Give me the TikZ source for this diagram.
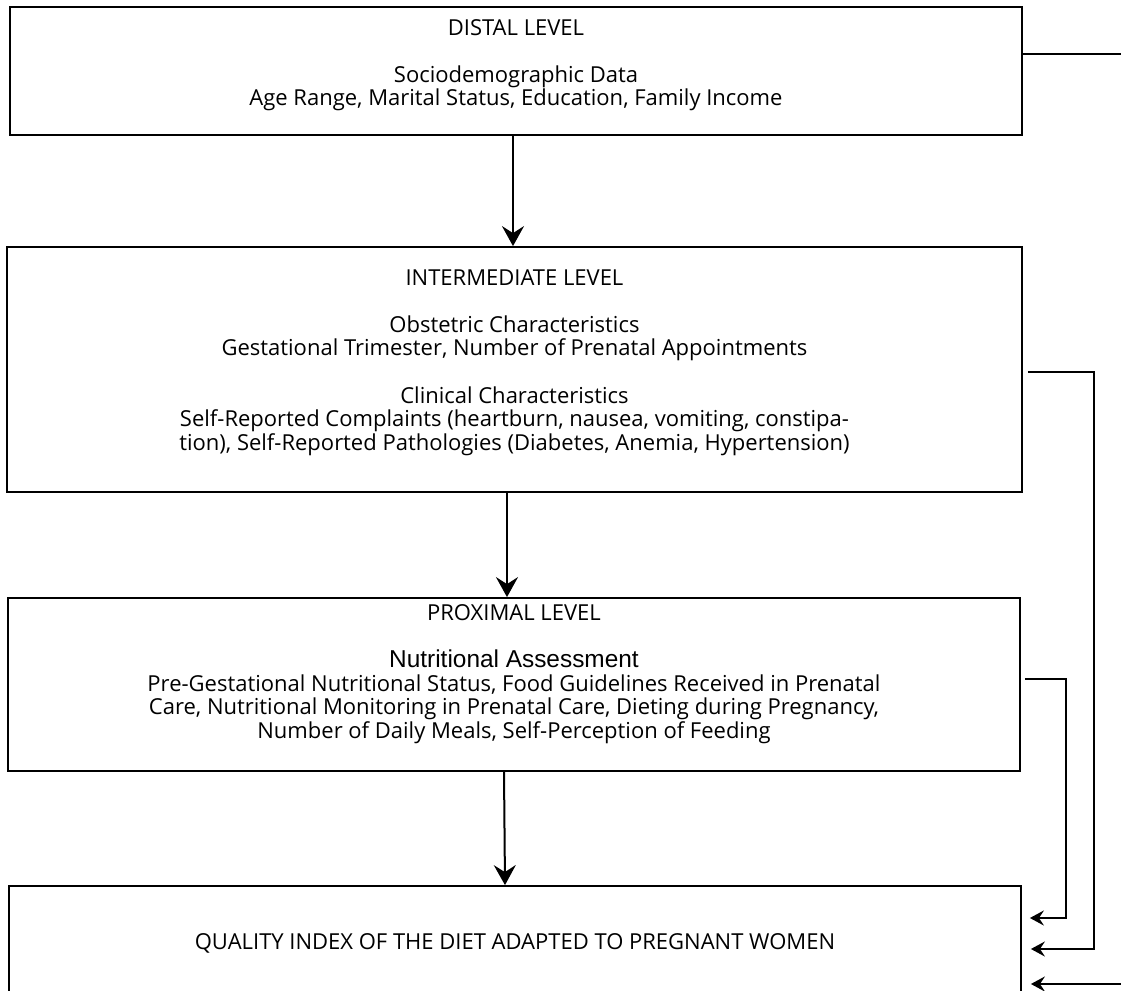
\documentclass[tikz,border=0pt]{standalone}
\usepackage{fontspec}
\setmainfont{Open Sans}
\newfontfamily\arialfont{Liberation Sans}
\usepackage{tikz}
\usetikzlibrary{arrows.meta,positioning}
\tikzstyle{levelbox} = [draw, line width=0.9pt, inner sep=0pt, minimum width=506pt]
\tikzstyle{leveltext} = [align=center, inner sep=0pt, font={\fontsize{11pt}{11.8pt}\selectfont}]
\tikzstyle{arrow} = [line width=1pt,-{Stealth[length=10pt,width=11pt,inset=3.5pt]}]
\tikzstyle{sidearrow} = [line width=1pt,-{Stealth[length=7pt,width=7.5pt,inset=2.5pt]}]
\tikzstyle{line} = [line width=1pt]

\begin{document}
\begin{tikzpicture}[x=0.5pt, y=-0.5pt]
\useasboundingbox (0,0) rectangle (1121,991);
% Level boxes
\node[levelbox, minimum height=64pt] (distal) at (516,71) {};
\node[levelbox, minimum width=507.5pt, minimum height=122.5pt] (inter) at (514.5,369.5) {};
\node[levelbox, minimum height=86.5pt] (proximal) at (514,684.5) {};
\node[levelbox, leveltext, minimum height=57pt] (quality) at (515,943) {QUALITY INDEX OF THE DIET ADAPTED TO PREGNANT WOMEN};
% Box texts
\node[leveltext] (distaltext) at (516,65.25) {DISTAL LEVEL\\[11.8pt]Sociodemographic Data\\Age Range, Marital Status, Education, Family Income};
\node[leveltext] (intertext) at (514.5,362.5) {INTERMEDIATE LEVEL\\[11.8pt]Obstetric Characteristics\\Gestational Trimester, Number of Prenatal Appointments\\[11.8pt]Clinical Characteristics\\Self-Reported Complaints (heartburn, nausea, vomiting, constipa-\\tion), Self-Reported Pathologies (Diabetes, Anemia, Hypertension)};
\node[leveltext] (proximaltext) at (514,674) {PROXIMAL LEVEL\\[11.8pt]{\arialfont\fontsize{12.2pt}{11.8pt}\selectfont Nutritional Assessment}\\Pre-Gestational Nutritional Status, Food Guidelines Received in Prenatal\\Care, Nutritional Monitoring in Prenatal Care, Dieting during Pregnancy,\\Number of Daily Meals, Self-Perception of Feeding};
% Downward arrows
\draw[arrow] ([xshift=-1.5pt]distal.south) -- ([xshift=-1.5pt]distal.south |- inter.north);
\draw[arrow] ([xshift=-3.75pt]inter.south) -- ([xshift=-3.75pt]inter.south |- proximal.north);
\draw[arrow] ([xshift=-5pt]proximal.south) -- ([xshift=-4.5pt]proximal.south |- quality.north);
% Side connectors
\coordinate (distalright) at (1121,54);
\coordinate (distalin) at (1121,984);
\coordinate (interbend) at (1094,372);
\coordinate (proxbend) at (1066,679);
\draw[line] (distal.east |- distalright) -- (distalright);
\draw[sidearrow] ([xshift=2.5pt]inter.east |- interbend) -- (interbend) |- ([xshift=4.5pt,yshift=-3pt]quality.east);
\draw[sidearrow] ([xshift=2pt]proximal.east |- proxbend) -- (proxbend) |- ([xshift=4pt,yshift=12.5pt]quality.east);
\draw[sidearrow] (distalin) -- ([xshift=4.5pt,yshift=-20.5pt]quality.east);
\end{tikzpicture}
\end{document}
